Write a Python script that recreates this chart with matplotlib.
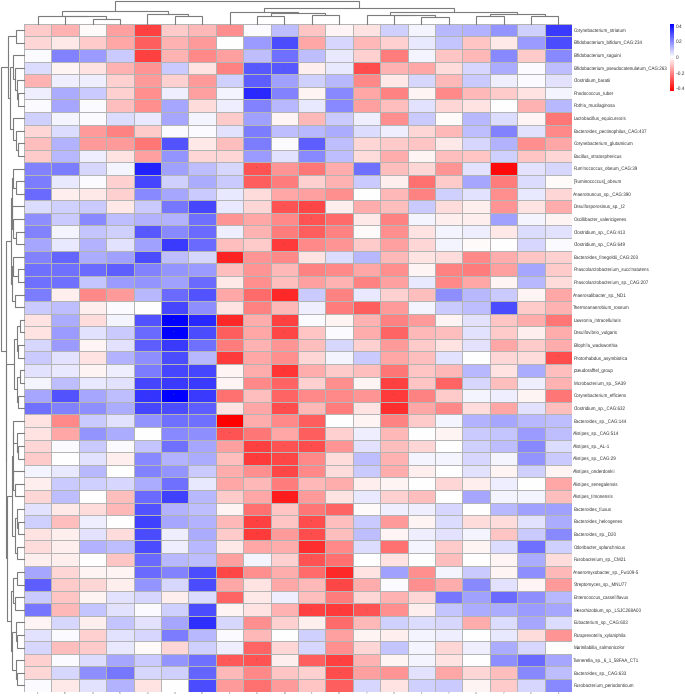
import matplotlib
matplotlib.use("Agg")
import matplotlib.pyplot as plt
from matplotlib.colors import LinearSegmentedColormap
import numpy as np

plt.rcParams['font.family'] = ['Liberation Sans', 'DejaVu Sans']
plt.rcParams['text.hinting'] = 'none'
plt.rcParams['text.hinting_factor'] = 8

species = ["Corynebacterium_striatum","Bifidobacterium_bifidum_CAG:234","Bifidobacterium_saguini",
"Bifidobacterium_pseudocatenulatum_CAG:263","Clostridium_baratii","Rhodococcus_ruber","Rothia_mucilaginosa",
"Lactobacillus_equicursoris","Bacteroides_pectinophilus_CAG:437","Corynebacterium_glutamicum","Bacillus_stratosphericus",
"Ruminococcus_obeum_CAG:39","[Ruminococcus]_obeum","Anaerotruncus_sp._CAG:390","Desulfosporosinus_sp._I2",
"Oscillibacter_valericigenes","Clostridium_sp._CAG:413","Clostridium_sp._CAG:649","Bacteroides_finegoldii_CAG:203",
"Phascolarctobacterium_succinatutens","Phascolarctobacterium_sp._CAG:207","Anaerosalibacter_sp._ND1","Thermoanaerobium_roseum",
"Lawsonia_intracellularis","Desulfovibrio_vulgaris","Bilophila_wadsworthia","Photorhabdus_asymbiotica",
"pseudorafftel_group","Microbacterium_sp._SA39","Corynebacterium_efficiens","Clostridium_sp._CAG:632",
"Bacteroides_sp._CAG:144","Alistipes_sp._CAG:514","Alistipes_sp._AL-1","Alistipes_sp._CAG:29","Alistipes_onderdonkii",
"Alistipes_senegalensis","Alistipes_timonensis","Bacteroides_fluxus","Bacteroides_helcogenes","Bacteroides_sp._D20",
"Odoribacter_splanchnicus","Fusobacterium_sp._CM21","Anaeromyxobacter_sp._Fw109-5","Streptomyces_sp._MNU77",
"Enterococcus_casseliflavus","Mesorhizobium_sp._LSJC268A00","Eubacterium_sp._CAG:603","Paraprevotella_xylaniphila",
"Marinilabilia_salmonicolor","Tannerella_sp._6_1_58FAA_CT1","Bacteroides_sp._CAG:633","Fusobacterium_periodonticum"]

sample_labels = ["1","6","4","5","2","3","0","1","2","8","1","0","7","3","1","7","4","7","2","1"]

# correlation values in hundredths, one row per species
heat_rows = [
[-9,-13,-1,-16,-32,-9,-12,-19,1,11,-10,-2,-5,8,2,12,13,18,8,33],
[-7,-4,-9,-15,-27,-13,-17,0,17,30,-15,7,-12,-8,4,10,-10,-4,17,30],
[1,21,17,9,-32,-13,-20,-16,11,24,11,4,-8,-22,2,-10,-12,20,-9,20],
[6,-2,-5,-13,-18,9,-5,-21,28,28,-3,4,-30,-13,-15,-6,7,14,1,11],
[-13,3,3,-8,-17,-8,-17,8,27,16,8,12,-20,-4,7,-12,9,3,1,5],
[3,14,9,-8,-19,3,-16,2,36,21,-2,20,-15,-21,-2,-20,-12,-9,-5,2],
[1,15,1,-11,-19,15,-6,3,21,12,4,20,-16,-11,5,-7,-5,0,-13,12],
[8,2,1,6,4,15,2,-9,16,-2,-12,9,3,-19,9,-1,12,6,-2,-23],
[-7,6,-17,-21,-9,1,1,5,22,11,12,14,6,3,-7,-12,11,21,5,-20],
[-11,13,-17,-17,-23,29,-4,-11,22,1,27,11,-7,-9,-10,-4,7,13,-19,-15],
[-9,12,3,-5,-16,18,-7,-7,17,5,20,11,-6,-14,-2,-11,-10,8,-10,-7],
[21,22,7,2,37,16,11,7,-29,-18,-23,-14,24,-11,-7,-18,5,-41,5,7],
[22,4,1,-8,31,8,14,9,-27,-22,-8,-13,9,-3,-24,-9,15,-22,6,-1],
[25,-3,-4,-8,20,15,9,4,-6,-15,-16,-19,0,-12,-21,8,5,-19,4,-7],
[6,8,9,-4,9,23,31,4,-7,-29,-31,-3,-14,-11,9,-6,-3,-18,-5,-14],
[19,9,20,11,13,13,24,-18,-15,-20,-29,-25,-4,-21,2,-3,-3,16,2,-2],
[21,2,10,8,28,20,25,3,-13,-22,-27,-21,-1,-19,-5,2,3,-4,6,5],
[15,4,13,5,16,33,25,-11,-9,-33,-20,-18,-9,-16,-7,2,-1,0,7,1],
[21,26,14,16,30,11,7,-37,-18,-20,-5,6,12,-12,-5,-6,-20,-14,-10,-8],
[24,24,25,27,21,18,17,-11,-18,-12,-21,-20,-15,-19,-2,-21,-22,-16,15,-9],
[24,24,10,17,18,16,25,-4,-19,-11,-16,-13,-21,-16,4,-20,-15,-2,12,-6],
[22,-3,-20,-17,12,25,29,-15,-25,-36,9,-21,4,-8,-11,19,12,9,-2,-15],
[9,11,-3,1,0,31,19,-5,-21,-12,3,-22,-27,-17,2,9,11,30,-9,-13],
[-5,14,-6,2,29,43,36,-36,-14,-32,1,-2,-13,-21,-17,-2,5,-10,-14,-23],
[-5,17,5,9,25,43,30,-27,-15,-31,-10,1,-14,-26,-12,-11,5,-9,-3,-14],
[7,17,-2,5,27,33,24,-22,-13,-18,-11,7,-8,-17,-9,-5,5,-15,-9,-14],
[9,5,-5,13,19,30,12,-33,-15,-19,-7,2,9,-15,-11,5,0,-7,-6,-30],
[5,4,-2,3,22,31,31,-2,-14,-34,-14,-9,-11,-23,-10,-12,12,-5,14,-11],
[2,11,4,5,31,33,33,-2,-20,-26,-8,-19,-2,-32,-10,-26,7,-11,3,-13],
[15,29,15,11,34,43,33,-24,-11,-26,-20,-20,-18,-33,-21,-9,2,3,-2,-23],
[24,21,19,14,31,30,27,-5,-15,-30,-12,-22,-5,-35,-15,-20,-6,-15,5,-11],
[-5,-20,9,5,18,24,24,-43,-14,-20,-27,0,-2,-21,-9,2,13,15,12,11],
[-5,-15,18,14,0,20,19,-29,-23,-15,-27,-8,3,-12,0,-2,9,10,17,11],
[-7,1,9,1,10,24,15,-16,-32,-29,-30,-18,5,-11,-7,0,8,11,20,6],
[-9,0,5,-3,20,13,14,-11,-33,-31,-20,-6,11,-13,2,2,7,2,18,9],
[2,4,12,0,21,18,9,-14,-19,-31,-20,-6,9,-14,-3,0,5,-2,8,-2],
[-3,9,8,7,14,24,4,-15,-12,-22,-12,-14,-3,-2,0,-7,-3,3,0,-15],
[-7,11,0,-11,25,32,12,-9,-15,-38,-17,-5,4,-8,-11,0,15,2,2,-11],
[5,-4,-6,-12,29,13,11,-2,-24,-10,-23,-26,-1,3,3,7,0,12,16,16],
[8,-11,3,0,32,15,13,-12,-32,-10,-30,-11,9,-17,-2,6,-6,-6,5,14],
[-5,-3,5,-6,30,3,14,-9,-33,-17,-30,-11,11,-2,3,5,2,-10,9,20],
[-6,-3,13,11,30,3,12,-4,-15,-14,-35,-20,6,-24,2,-9,-2,6,24,8],
[-3,-3,0,-10,25,12,11,-16,2,-8,-29,-24,0,-5,0,-11,0,-2,14,-6],
[15,-7,-2,-2,25,21,30,-31,-19,-14,-25,-36,-5,16,-19,2,9,-2,19,-12],
[27,-9,-7,-3,18,7,30,-15,-5,-15,-12,-31,-14,1,-19,-14,20,5,-2,-17],
[9,-10,-2,5,7,-3,6,-26,-4,3,-11,-22,-7,-13,-7,23,16,25,19,12],
[23,-12,10,5,1,8,30,-2,-5,-13,-32,-33,-29,-19,-3,10,14,14,17,15],
[-2,7,-3,10,5,15,35,7,-19,-8,-3,-25,-12,8,6,7,-14,6,15,6],
[5,1,-8,5,7,22,12,1,-12,0,8,-16,-2,-3,2,3,0,4,-6,-18],
[7,-11,-9,4,-1,-7,8,3,-26,-7,7,-19,-7,10,2,-7,3,14,7,0],
[-8,1,6,15,9,18,24,-28,-29,-3,-27,-32,-13,-2,2,-5,0,19,25,15],
[-7,7,19,23,7,8,26,-12,-20,-10,-8,-30,-16,-18,5,-15,-7,-11,20,11],
[1,-4,5,13,-5,0,30,-17,-24,-17,-10,-27,7,-5,8,9,-2,-9,7,20],
]

colorbar_ticks = [0.4, 0.2, 0, -0.2, -0.4]
vlim = 0.43

# dendrograms: nested (left, right, height); integers are leaf positions, heights in px
column_tree = (
    ((0, (1, (2, 3, 4.4), 7.4), 8), (4, (5, 6, 7.4), 10), 12.7),
    ((7, ((8, 9, 7.7), (10, 11, 8.4), 10.4), 11.4),
     ((12, (13, (14, 15, 7), 8.4), 8.3), ((16, 17, 8), (18, 19, 8), 10), 11.7), 16.2),
    23)

row_top = ((0, 1, 8.3),
           ((2, (3, (4, (5, 6, 5.7), 7.3), 9), 10.7),
            (7, (8, (9, 10, 5.7), 8.3), 11.3), 14), 15.7)
row_g2 = (((11, (12, 13, 8.3), 10.7), (14, (15, (16, 17, 8), 10.7), 12.3), 12.5),
          ((18, (19, 20, 5.7), 10.7), (21, 22, 9), 12.5), 13)
row_a = ((((23, 24, 4), (25, 26, 5.7), 7.3), ((27, 28, 4), (29, 30, 6.5), 7.5), 10))
row_b = (((31, (32, (33, 34, 5.7), 7), 11), (35, (36, 37, 9), 10.7), 11.5),
         ((38, (39, 40, 5.7), 7.3), (41, 42, 7.3), 9), 12.5)
row_c = (((43, 44, 7.3), (45, 46, 9), 11.3),
         ((47, (48, 49, 7.3), 8), (50, (51, 52, 7.3), 8.3), 12.3), 13)
row_tree = (row_top, (row_g2, (row_a, (row_b, row_c, 16.7), 18), 18.5), 23.5)

W, H = 685, 697
L, R, T, B = 24.0, 572.0, 23.7, 691.7

fig = plt.figure(figsize=(W / 100, H / 100), dpi=100, facecolor='white')

def axpx(x0, y0, x1, y1):
    return fig.add_axes([x0 / W, 1 - y1 / H, (x1 - x0) / W, (y1 - y0) / H])

data = np.array(heat_rows) / 100.0
nrows, ncols = data.shape
cmap = LinearSegmentedColormap.from_list('rwb', ['#ff0000', '#ffffff', '#0000ff'], N=256)

ax = axpx(L, T, R, B)
mesh = ax.pcolormesh(np.arange(ncols + 1), np.arange(nrows + 1), data, cmap=cmap,
                     vmin=-vlim, vmax=vlim, edgecolors='#b4b4b4', linewidth=0.6)
ax.set_xlim(0, ncols)
ax.set_ylim(nrows, 0)
for s in ax.spines.values():
    s.set_visible(False)
ax.set_xticks(np.arange(ncols) + 0.5)
ax.set_xticklabels(sample_labels, fontsize=2.2, color='#555555')
ax.yaxis.tick_right()
ax.set_yticks(np.arange(nrows) + 0.5)
ax.set_yticklabels(species, fontsize=3.25, color='#303030')
ax.tick_params(length=0, pad=1.0)
ax.tick_params(axis='x', pad=0.4)

for (r, c), v in np.ndenumerate(data):
    if abs(v) >= 0.28:
        ax.text(c + 0.5, r + 0.5, '**' if abs(v) >= 0.36 else '*', ha='center', va='center',
                fontsize=2.4, color='#555555')

def draw(axis, node, horizontal):
    """Draws a nested merge tree; returns (position, height) of the node."""
    if not isinstance(node, tuple):
        return node + 0.5, 0.0
    lp, lh = draw(axis, node[0], horizontal)
    rp, rh = draw(axis, node[1], horizontal)
    h = node[2]
    a, b = [lp, lp, rp, rp], [lh, h, h, rh]
    xs, ys = (a, b) if horizontal else (b, a)
    axis.plot(xs, ys, color='#7c7c7c', lw=0.8, solid_joinstyle='miter', clip_on=False)
    return (lp + rp) / 2, h

ax_top = axpx(L, 0, R, T)
draw(ax_top, column_tree, True)
ax_top.set_xlim(0, ncols)
ax_top.set_ylim(0, T)
ax_top.axis('off')

ax_left = axpx(0, T, L, B)
draw(ax_left, row_tree, False)
ax_left.set_ylim(nrows, 0)
ax_left.set_xlim(L, 0)
ax_left.axis('off')

cax = axpx(669.7, 23.7, 674.3, 90.7)
cb = fig.colorbar(mesh, cax=cax, ticks=colorbar_ticks)
cb.outline.set_visible(False)
cb.ax.set_yticklabels([str(t).replace('-', '\u2212') for t in colorbar_ticks], fontsize=3.4, color='#303030')
cb.ax.tick_params(length=0, pad=1.2)

fig.savefig('out.png', dpi=100)
